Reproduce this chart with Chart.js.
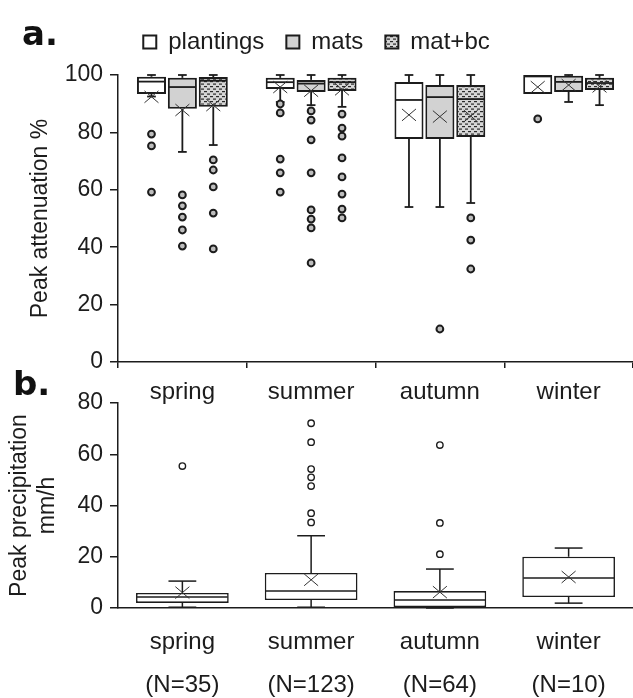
<!DOCTYPE html>
<html><head><meta charset="utf-8">
<script src="https://cdn.jsdelivr.net/npm/chart.js@4.4.1/dist/chart.umd.min.js"></script>
<style>
html,body{margin:0;padding:0;background:#fff;}
#wrap{position:relative;width:633px;height:698px;overflow:hidden;background:#fff;}
#c1{position:absolute;left:0;top:0;}
#c2{position:absolute;left:0;top:370px;}
</style></head>
<body><div id="wrap"><canvas id="c1" width="633" height="410"></canvas><canvas id="c2" width="633" height="328"></canvas></div>
<script>
const seasons = ['spring','summer','autumn','winter'];
const seasonCounts = ['(N=35)','(N=123)','(N=64)','(N=10)'];
const seriesNames = ['plantings','mats','mat+bc'];
// each box: [lower whisker, Q1, median, Q3, upper whisker]
const plantingsBox = [[92.5,93.4,97.7,99.4,100],[90.6,95.1,97.5,99,100],[54,77.7,91.3,97.6,100],[93.4,93.4,99.5,100,100]];
const plantingsMean = [92.4,95.8,86.1,95.8];
const plantingsOutliers = [[79.4,75.3,59.2],[89.9,86.8,70.7,65.9,59.2],[],[84.7]];
const matsBox = [[73.2,88.2,95.8,99,100],[89.5,94.1,97,98.3,100],[54,77.7,92.3,96.5,100],[90.6,94.1,97.6,99.7,100]];
const matsMean = [87.8,94.5,85.5,96.5];
const matsOutliers = [[58.2,54.4,50.5,46,40.4],[87.5,84.3,77.4,65.9,53,49.8,46.7,34.5],[11.5],[]];
const matbcBox = [[75.6,88.9,98,99.3,100],[88.9,94.4,97.5,99,100],[55.4,78.4,91.6,96.5,100],[89.5,94.8,97.2,99,100]];
const matbcMean = [89.5,95,85.7,96];
const matbcOutliers = [[70.4,66.9,61,51.9,39.4],[86.4,81.5,78.7,71.1,64.5,58.5,53.3,50.2],[50.2,42.5,32.4],[]];
const precipBox = [[0.3,2,4.3,5.9,10.5],[0.3,3.1,6.6,13.7,28.2],[0,0.4,3.1,6.6,15.2],[1.9,4.3,11.7,20,23.4]];
const precipMean = [6,11,6.2,12.1];
const precipOutliers = [[55.4],[72.1,64.7,54.2,51,47.6,37,33.4],[63.6,33.2,21],[]];
const attenuationTicks = [0,20,40,60,80,100];
const precipTicks = [0,20,40,60,80];

const FONT = "'Liberation Sans', Arial, sans-serif";
const INK = '#1c1c1c';

function makePattern(){
  const c = document.createElement('canvas'); c.width = 6; c.height = 5;
  const g = c.getContext('2d');
  g.fillStyle = '#d6d6d6'; g.fillRect(0,0,6,5);
  g.fillStyle = '#2a2a2a'; g.fillRect(0,1,3,1.2); g.fillRect(3,3.5,3,1.2);
  return g.createPattern(c,'repeat');
}

function strokeLine(ctx,x1,y1,x2,y2){ctx.beginPath();ctx.moveTo(x1,y1);ctx.lineTo(x2,y2);ctx.stroke();}

const boxExtras = {
  id:'boxExtras',
  afterDatasetsDraw(chart, args, opts){
    const ctx = chart.ctx, ys = chart.scales.y;
    const p = v => ys.getPixelForValue(v);
    chart.data.datasets.forEach((ds, di) => {
      const meta = chart.getDatasetMeta(di);
      meta.data.forEach((bar, i) => {
        const b = ds.boxStats[i], mean = ds.meanStats[i], outs = ds.outlierStats[i];
        const x = bar.x, half = bar.width/2, cap = bar.width*opts.capRatio/2;
        ctx.save();
        ctx.strokeStyle = opts.color; ctx.lineWidth = opts.lineWidth;
        if (b[4] > b[3]) { strokeLine(ctx,x,p(b[3]),x,p(b[4])); strokeLine(ctx,x-cap,p(b[4]),x+cap,p(b[4])); }
        if (b[0] < b[1]) { strokeLine(ctx,x,p(b[1]),x,p(b[0])); strokeLine(ctx,x-cap,p(b[0]),x+cap,p(b[0])); }
        ctx.lineWidth = opts.medianWidth;
        strokeLine(ctx,x-half+1,p(b[2]),x+half-1,p(b[2]));
        ctx.lineWidth = opts.meanWidth; ctx.strokeStyle = opts.meanColor;
        const m = opts.meanSize, pm = p(mean);
        strokeLine(ctx,x-m,pm-m*0.85,x+m,pm+m*0.85); strokeLine(ctx,x-m,pm+m*0.85,x+m,pm-m*0.85);
        ctx.strokeStyle = opts.color; ctx.lineWidth = opts.outlierBorder; ctx.fillStyle = opts.outlierFill;
        outs.forEach(v => { ctx.beginPath(); ctx.arc(x, p(v), opts.outlierRadius, 0, Math.PI*2); ctx.fill(); ctx.stroke(); });
        ctx.restore();
      });
    });
  }
};

const panelLetter = {
  id:'panelLetter',
  afterDraw(chart, args, opts){
    const ctx = chart.ctx;
    ctx.save();
    ctx.font = "bold 34px 'DejaVu Sans', " + FONT; ctx.fillStyle = '#111';
    ctx.textBaseline = 'alphabetic';
    ctx.fillText(opts.text, opts.x, opts.y);
    ctx.restore();
  }
};

const legendSpacer = {
  id:'legendSpacer',
  beforeLayout(chart, args, opts){
    const lg = chart.legend;
    if (lg && !lg._spaced) {
      const orig = lg.fit.bind(lg);
      lg.fit = function(){ orig(); this.height = opts.height; };
      lg._spaced = true;
    }
  }
};

const pattern = makePattern();
const seriesFills = ['#ffffff','#d2d2d2',pattern];
const seriesBoxes = [plantingsBox, matsBox, matbcBox];
const seriesMeans = [plantingsMean, matsMean, matbcMean];
const seriesOutliers = [plantingsOutliers, matsOutliers, matbcOutliers];

const axisTickFont = {family: FONT, size: 23};

new Chart(document.getElementById('c1'), {
  type:'bar',
  data:{
    labels: seasons,
    datasets: seriesNames.map((name, k) => ({
      label: name,
      data: seriesBoxes[k].map(b => [b[1], b[3]]),
      boxStats: seriesBoxes[k], meanStats: seriesMeans[k], outlierStats: seriesOutliers[k],
      backgroundColor: seriesFills[k], borderColor: INK, borderWidth: 2, borderSkipped: false,
      categoryPercentage: 0.72, barPercentage: 0.94
    }))
  },
  options:{
    responsive:false, animation:false, events:[],
    layout:{padding:{top:8,left:0,right:0,bottom:0}},
    plugins:{
      legend:{display:true, position:'top', align:'center',
        labels:{font:{family:FONT,size:24}, color:INK, boxWidth:13, boxHeight:13, padding:22}},
      tooltip:{enabled:false},
      legendSpacer:{height:67},
      panelLetter:{text:'a.', x:22, y:45},
      boxExtras:{color:INK, lineWidth:1.8, medianWidth:1.8, capRatio:0.3, meanWidth:1, meanColor:'#333', meanSize:7,
        outlierRadius:3.4, outlierBorder:2, outlierFill:'#bdbdbd'}
    },
    scales:{
      x:{type:'category', offset:true,
        grid:{offset:true, drawOnChartArea:false, drawTicks:true, tickLength:6, color:INK, lineWidth:1.5},
        border:{display:true, color:INK, width:1.5},
        ticks:{font:{family:FONT,size:24}, color:INK, padding:10, maxRotation:0},
        afterFit(s){ s.height = 48; }
      },
      y:{min:0, max:100,
        afterBuildTicks(s){ s.ticks = attenuationTicks.map(v => ({value:v})); },
        grid:{drawOnChartArea:false, drawTicks:true, tickLength:8, color:INK, lineWidth:1.5},
        border:{display:true, color:INK, width:1.5},
        ticks:{font:axisTickFont, color:INK, padding:7},
        title:{display:true, text:'Peak attenuation %', font:{family:FONT,size:23}, color:INK, padding:{top:27,bottom:0}},
        afterFit(s){ s.width = 118; }
      }
    }
  },
  plugins:[legendSpacer, boxExtras, panelLetter]
});

new Chart(document.getElementById('c2'), {
  type:'bar',
  data:{
    labels: seasons.map((s,i) => [s, seasonCounts[i]]),
    datasets:[{
      label:'Peak precipitation',
      data: precipBox.map(b => [b[1], b[3]]),
      boxStats: precipBox, meanStats: precipMean, outlierStats: precipOutliers,
      backgroundColor:'#ffffff', borderColor: INK, borderWidth:1.6, borderSkipped:false,
      categoryPercentage:0.72, barPercentage:1
    }]
  },
  options:{
    responsive:false, animation:false, events:[],
    layout:{padding:{top:33,left:0,right:0,bottom:0}},
    plugins:{
      legend:{display:false}, tooltip:{enabled:false},
      panelLetter:{text:'b.', x:13, y:25},
      boxExtras:{color:INK, lineWidth:1.5, medianWidth:1.5, capRatio:0.3, meanWidth:1, meanColor:'#333', meanSize:7,
        outlierRadius:3.2, outlierBorder:1.4, outlierFill:'#ffffff'}
    },
    scales:{
      x:{type:'category', offset:true,
        grid:{display:false, drawTicks:false},
        border:{display:true, color:INK, width:1.5},
        ticks:{font:{family:FONT,size:24,lineHeight:1.79}, color:INK, padding:13, maxRotation:0},
        afterFit(s){ s.height = 90; }
      },
      y:{min:0, max:80,
        afterBuildTicks(s){ s.ticks = precipTicks.map(v => ({value:v})); },
        grid:{drawOnChartArea:false, drawTicks:true, tickLength:8, color:INK, lineWidth:1.5},
        border:{display:true, color:INK, width:1.5},
        ticks:{font:axisTickFont, color:INK, padding:7},
        title:{display:true, text:['Peak precipitation','mm/h'], font:{family:FONT,size:23,lineHeight:1.25}, color:INK, padding:{top:5,bottom:0}},
        afterFit(s){ s.width = 118; }
      }
    }
  },
  plugins:[boxExtras, panelLetter]
});
</script>
</body></html>
